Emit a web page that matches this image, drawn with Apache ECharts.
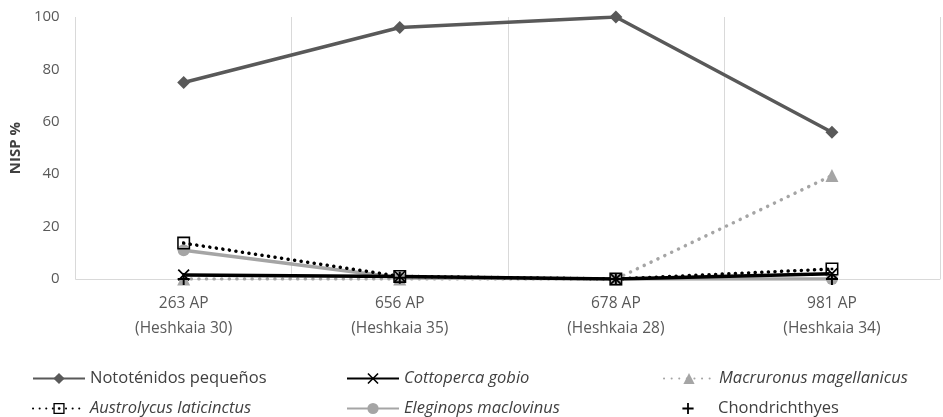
<!DOCTYPE html>
<html>
<head>
<meta charset="utf-8">
<script src="https://cdn.jsdelivr.net/npm/echarts@6/dist/echarts.min.js"></script>
<style>
  html, body { margin: 0; padding: 0; background: #fff; }
  #chart { width: 943px; height: 417px; }
</style>
</head>
<body>
<div id="chart"></div>
<script>
// categorias (eje x)
var sitios = ['263 AP\n(Heshkaia 30)', '656 AP\n(Heshkaia 35)', '678 AP\n(Heshkaia 28)', '981 AP\n(Heshkaia 34)'];

// NISP % por taxón
var nototenidos = [75, 96, 100, 56];
var cottoperca = [1.5, 1, 0, 2];
var macruronus = [0, 0, 0, 39.5];
var austrolycus = [13.7, 1, 0, 3.8];
var eleginops = [11, 0.5, 0, 0];
var chondrichthyes = [0, 0.5, 0, 0];

var yTicks = [0, 20, 40, 60, 80, 100];

var fuente = 'Open Sans';
var gris = '#595959';

// simbolos
var simboloX = 'path://M0,1L1,0L5,4L9,0L10,1L6,5L10,9L9,10L5,6L1,10L0,9L4,5Z';
var simboloMas = 'path://M4.2,0H5.8V4.2H10V5.8H5.8V10H4.2V5.8H0V4.2H4.2Z';
var simboloCaja = 'path://M0,0H10V10H0Z M1.2,1.2V8.8H8.8V1.2Z M4,4H6V6H4Z';

var myChart = echarts.init(document.getElementById('chart'));

// una leyenda por elemento, para ubicarlas en 3 columnas x 2 filas
function leyenda(left, top, ancho, nombre, italica) {
    return {
        left: left,
        top: top,
        padding: 0,
        itemWidth: ancho,
        itemHeight: 14,
        textStyle: {
            fontFamily: fuente, fontSize: 16.5, color: '#404040',
            fontStyle: italica ? 'italic' : 'normal'
        },
        data: [nombre]
    };
}

var option = {
    animation: false,
    grid: { left: 74, right: 3, top: 17, bottom: 138 },
    legend: [
        leyenda(32, 370, 52, 'Nototénidos pequeños', false),
        leyenda(32, 400, 52, 'Austrolycus laticinctus', true),
        leyenda(346, 370, 52, 'Cottoperca gobio', true),
        leyenda(346, 400, 52, 'Eleginops maclovinus', true),
        leyenda(663, 370, 50, 'Macruronus magellanicus', true),
        leyenda(663, 400, 50, 'Chondrichthyes', false)
    ],
    xAxis: {
        type: 'category',
        boundaryGap: true,
        data: sitios,
        axisLine: { show: true, lineStyle: { color: '#d9d9d9', width: 1 } },
        axisTick: { show: false },
        splitLine: { show: true, lineStyle: { color: '#d9d9d9', width: 1 } },
        axisLabel: {
            fontFamily: fuente, fontSize: 15.5, color: gris,
            lineHeight: 25, margin: 12
        }
    },
    yAxis: {
        type: 'value',
        min: yTicks[0],
        max: yTicks[yTicks.length - 1],
        interval: 20,
        name: 'NISP %',
        nameLocation: 'middle',
        nameRotate: 90,
        nameGap: 48,
        nameTextStyle: { fontFamily: fuente, fontSize: 15, fontWeight: 'bold', color: '#404040' },
        axisLine: { show: false },
        axisTick: { show: false },
        splitLine: { show: false },
        axisLabel: { fontFamily: fuente, fontSize: 15, color: gris, margin: 16 }
    },
    series: [
        {
            name: 'Nototénidos pequeños',
            type: 'line',
            data: nototenidos,
            symbol: 'diamond',
            symbolSize: 13,
            lineStyle: { color: '#595959', width: 3.5 },
            itemStyle: { color: '#595959' }
        },
        {
            name: 'Macruronus magellanicus',
            type: 'line',
            data: macruronus,
            symbol: 'triangle',
            symbolSize: 13,
            lineStyle: { color: '#a5a5a5', width: 3.5, type: [0.1, 7.5], cap: 'round' },
            itemStyle: { color: '#a5a5a5' }
        },
        {
            name: 'Eleginops maclovinus',
            type: 'line',
            data: eleginops,
            symbol: 'circle',
            symbolSize: 12,
            lineStyle: { color: '#a5a5a5', width: 3.5 },
            itemStyle: { color: '#a5a5a5' }
        },
        {
            name: 'Austrolycus laticinctus',
            type: 'line',
            data: austrolycus,
            symbol: simboloCaja,
            symbolSize: 13,
            lineStyle: { color: '#000', width: 3.5, type: [0.1, 6.5], cap: 'round' },
            itemStyle: { color: '#000' }
        },
        {
            name: 'Cottoperca gobio',
            type: 'line',
            data: cottoperca,
            symbol: simboloX,
            symbolSize: 12,
            lineStyle: { color: '#000', width: 3.5 },
            itemStyle: { color: '#000' }
        },
        {
            name: 'Chondrichthyes',
            type: 'line',
            data: chondrichthyes,
            symbol: simboloMas,
            symbolSize: 12,
            lineStyle: { color: '#000', width: 0, opacity: 0 },
            itemStyle: { color: '#000' }
        }
    ]
};

myChart.setOption(option);
</script>
</body>
</html>
